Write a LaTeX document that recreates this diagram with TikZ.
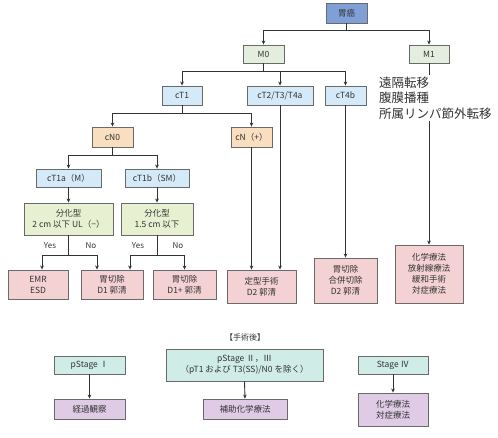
\documentclass[tikz,border=0pt]{standalone}
\usepackage{fontspec}
\setmainfont{Noto Sans CJK JP}
\usetikzlibrary{arrows.meta,calc}
\definecolor{cgan}{HTML}{7F9FD6}
\definecolor{cm}{HTML}{E3EEDF}
\definecolor{ct}{HTML}{D5EAF8}
\definecolor{cn}{HTML}{F9DEC0}
\definecolor{cbun}{HTML}{E7F0D1}
\definecolor{cpink}{HTML}{F4D1D2}
\definecolor{cteal}{HTML}{CFECE7}
\definecolor{cpur}{HTML}{DFCBE5}
\definecolor{cbord}{HTML}{6A6A6A}
\definecolor{cline}{HTML}{333333}
\definecolor{ctext}{HTML}{333333}
\begin{document}
\begin{tikzpicture}[x=1pt,y=-1pt,
  box/.style={draw=cbord,line width=0.9pt,inner sep=1pt,align=center,text=ctext,
    font=\fontsize{8.5}{11}\selectfont},
  arr/.style={draw=cline,line width=0.9pt,-{Stealth[length=4pt,width=3.6pt]}},
  ln/.style={draw=cline,line width=0.9pt},
  yn/.style={text=ctext,font=\fontsize{8}{10}\selectfont,inner sep=0pt}]
\useasboundingbox (0,0) rectangle (498,437);
% top level
\node[box,fill=cgan,minimum width=41,minimum height=20] (gan) at (346.5,13) {胃癌};
\node[box,fill=cm,minimum width=41,minimum height=18] (m0) at (263.5,54) {M0};
\node[box,fill=cm,minimum width=40,minimum height=18] (m1) at (429,54) {M1};
\node[box,fill=ct,minimum width=40,minimum height=19] (ct1) at (182,95.5) {cT1};
\node[box,fill=ct,minimum width=66,minimum height=19] (ct234) at (280,95.5) {cT2/T3/T4a};
\node[box,fill=ct,minimum width=41,minimum height=19] (ct4b) at (345.5,95.5) {cT4b};
\node[box,fill=cn,minimum width=41,minimum height=20] (cn0) at (112.5,137) {cN0};
\node[box,fill=cn,minimum width=41,minimum height=20] (cnp) at (251.5,137) {cN（+）};
\node[box,fill=ct,minimum width=65,minimum height=18] (ct1a) at (68.5,178) {cT1a（M）};
\node[box,fill=ct,minimum width=64,minimum height=18] (ct1b) at (157,178) {cT1b（SM）};
\node[box,fill=cbun,minimum width=89,minimum height=32] (b1) at (68.5,219) {分化型\\2 cm 以下 UL（−）};
\node[box,fill=cbun,minimum width=72,minimum height=32] (b2) at (157,219) {分化型\\1.5 cm 以下};
\node[box,fill=cpink,minimum width=60,minimum height=29] (emr) at (38,284.5) {EMR\\ESD};
\node[box,fill=cpink,minimum width=62,minimum height=29] (d1) at (112,284.5) {胃切除\\D1 郭清};
\node[box,fill=cpink,minimum width=63,minimum height=29] (d1p) at (184.5,284.5) {胃切除\\D1+ 郭清};
\node[box,fill=cpink,minimum width=69,minimum height=33] (d2) at (261.5,286.5) {定型手術\\D2 郭清};
\node[box,fill=cpink,minimum width=63,minimum height=45] (gous) at (345.5,280.5) {胃切除\\合併切除\\D2 郭清};
\node[box,fill=cpink,minimum width=68,minimum height=58] (chem) at (429,274) {化学療法\\放射線療法\\緩和手術\\対症療法};
% connectors
\path (gan.south) ++(0,7) coordinate (j0);
\draw[arr] (gan.south) -- (j0) -| (m0.north);
\draw[arr] (j0) -| (m1.north);
\path (m0.south) ++(0,8) coordinate (j1);
\draw[arr] (m0.south) -- (j1) -| (ct1.north);
\draw[arr] (j1) -| (ct234.north);
\draw[arr] (j1) -| (ct4b.north);
\path (ct1.south) ++(0,8) coordinate (j2);
\draw[arr] (ct1.south) -- (j2) -| (cn0.north);
\draw[arr] (j2) -| (cnp.north);
\path (cn0.south) ++(0,8) coordinate (j3);
\draw[arr] (cn0.south) -- (j3) -| (ct1a.north);
\draw[arr] (j3) -| (ct1b.north);
\draw[arr] (ct1a.south) -- (b1.north);
\draw[arr] (ct1b.south) -- (b2.north);
\path (b1.south) ++(0,20) coordinate (j4);
\draw[arr] (b1.south) -- (j4) -| ([xshift=4]emr.north);
\draw[arr] (j4) -| ([xshift=-15]d1.north);
\path (b2.south) ++(0,20) coordinate (j5);
\draw[arr] (b2.south) -- (j5) -| ([xshift=18]d1.north);
\draw[arr] (j5) -| (d1p.north);
\node[yn] (y1) at (50,246) {Yes};
\node[yn] (n1) at (91,246) {No};
\node[yn] (y2) at (138,246) {Yes};
\node[yn] (n2) at (178,246) {No};
\draw[arr] (cnp.south) -- (cnp.south |- d2.north);
\draw[arr] (ct234.south) -- (ct234.south |- d2.north);
\draw[arr] (ct4b.south) -- (gous.north);
\draw[arr] (m1.south) -- (chem.north);
\node[fill=white,inner xsep=1pt,inner ysep=2pt,align=left,anchor=west,text=ctext,
  font=\fontsize{12.5}{15.5}\selectfont] (m1txt) at (378,98) {遠隔転移\\腹膜播種\\所属リンパ節外転移};
% post-operative
\node[text=ctext,font=\fontsize{8}{10}\selectfont,inner sep=0pt] (post) at (245,337) {【手術後】};
\node[box,fill=cteal,minimum width=71,minimum height=18] (ps1) at (89.5,365) {pStage Ⅰ};
\node[box,fill=cpur,minimum width=71,minimum height=20] (keika) at (89.5,409) {経過観察};
\node[box,fill=cteal,minimum width=157,minimum height=32] (ps23) at (244.5,365) {pStage Ⅱ，Ⅲ\\（pT1 および T3(SS)/N0 を除く）};
\node[box,fill=cpur,minimum width=84,minimum height=20] (hojo) at (245,409) {補助化学療法};
\node[box,fill=cteal,minimum width=70,minimum height=18] (s4) at (393,365) {Stage Ⅳ};
\node[box,fill=cpur,minimum width=70,minimum height=33] (chem2) at (393,409.5) {化学療法\\対症療法};
\draw[arr] (ps1.south) -- (keika.north);
\draw[arr] (ps23.south) -- (hojo.north);
\draw[arr] (s4.south) -- (chem2.north);
\end{tikzpicture}
\end{document}
